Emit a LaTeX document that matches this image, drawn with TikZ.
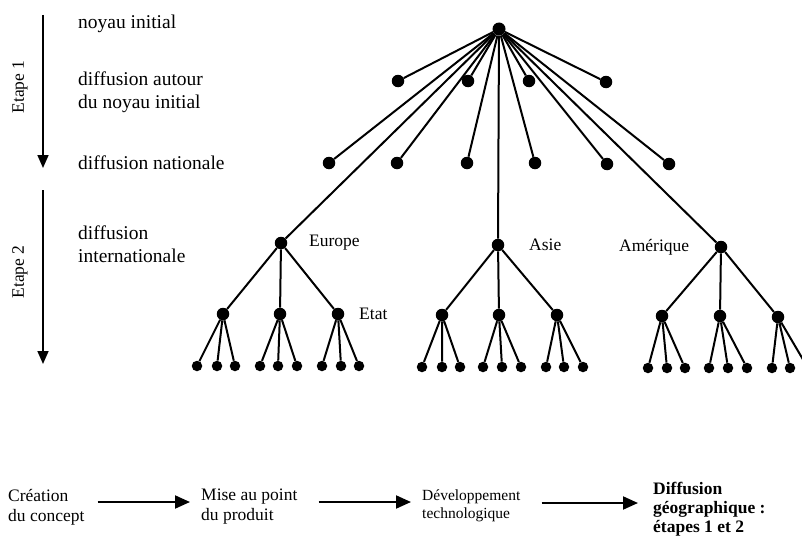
\documentclass[tikz,border=0pt]{standalone}
\usepackage{fontspec}
\setmainfont{Liberation Serif}
\usetikzlibrary{arrows.meta}
\tikzset{
  noeud/.style={circle, fill=black, inner sep=0pt, minimum size=12.5pt},
  feuille/.style={circle, fill=black, inner sep=0pt, minimum size=10.5pt},
  lien/.style={line width=2pt},
  etiq/.style={inner sep=0pt, anchor=west, align=left, font=\fontsize{19.5}{23}\selectfont},
  nom/.style={inner sep=0pt, anchor=west, align=left, font=\fontsize{17.5}{20}\selectfont},
  etape/.style={line width=1.6pt, -{Triangle[length=13pt,width=11pt]}},
  fleche/.style={line width=2pt, -{Triangle[length=15pt,width=13pt]}},
}
\begin{document}
\begin{tikzpicture}[x=1pt,y=-1pt] %pixels de l'image
	\useasboundingbox (0,0) rectangle (802,535);
		%Etapes
	\coordinate (e1haut) at (43,15);
	\coordinate (e1bas) at (43,168);
	\coordinate (e2haut) at (43,190);
	\coordinate (e2bas) at (43,364);
	\draw[etape] (e1haut) -- (e1bas);
	\draw[etape] (e2haut) -- (e2bas);
	\node[nom, anchor=center, rotate=90] (etape1) at (20,87) {Etape 1};
	\node[nom, anchor=center, rotate=90] (etape2) at (20,272) {Etape 2};
		%Textes
	\node[etiq] (tnoyau) at (78,24) {noyau initial};
	\node[etiq] (tautour) at (78,92) {diffusion autour\\du noyau initial};
	\node[etiq] (tnation) at (78,163) {diffusion nationale};
	\node[etiq] (tinter) at (78,244) {diffusion\\internationale};
		%Noyau et diffusion nationale
	\node[noeud, minimum size=13pt] (racine) at (499,29) {};
	\node[noeud] (n1a) at (398,81) {};
	\node[noeud] (n1b) at (468,81) {};
	\node[noeud] (n1c) at (529,81) {};
	\node[noeud] (n1d) at (606,82) {};
	\node[noeud] (n2a) at (329,163) {};
	\node[noeud] (n2b) at (397,163) {};
	\node[noeud] (n2c) at (467,163) {};
	\node[noeud] (n2d) at (535,163) {};
	\node[noeud] (n2e) at (607,164) {};
	\node[noeud] (n2f) at (669,164) {};
		%Continents
	\node[noeud] (europe) at (281,243) {};
	\node[noeud] (asie) at (498,245) {};
	\node[noeud] (amerique) at (721,247) {};
	\node[nom] (teurope) at (309,243) {Europe};
	\node[nom] (tasie) at (529,245) {Asie};
	\node[nom] (tamerique) at (619,247) {Amérique};
		%Etats
	\node[noeud] (eu1) at (223,314) {}; \node[noeud] (eu2) at (280,314) {}; \node[noeud] (eu3) at (338,314) {};
	\node[noeud] (as1) at (442,315) {}; \node[noeud] (as2) at (499,315) {}; \node[noeud] (as3) at (557,315) {};
	\node[noeud] (am1) at (662,316) {}; \node[noeud] (am2) at (720,316) {}; \node[noeud] (am3) at (778,317) {};
	\node[nom] (tetat) at (359,314) {Etat};
		%Feuilles
	\node[feuille] (eu1a) at (197,366) {}; \node[feuille] (eu1b) at (217,366) {}; \node[feuille] (eu1c) at (235,366) {};
	\node[feuille] (eu2a) at (260,366) {}; \node[feuille] (eu2b) at (278,366) {}; \node[feuille] (eu2c) at (297,366) {};
	\node[feuille] (eu3a) at (322,366) {}; \node[feuille] (eu3b) at (341,366) {}; \node[feuille] (eu3c) at (359,366) {};
	\node[feuille] (as1a) at (422,367) {}; \node[feuille] (as1b) at (442,367) {}; \node[feuille] (as1c) at (460,367) {};
	\node[feuille] (as2a) at (483,367) {}; \node[feuille] (as2b) at (502,367) {}; \node[feuille] (as2c) at (521,367) {};
	\node[feuille] (as3a) at (546,367) {}; \node[feuille] (as3b) at (564,367) {}; \node[feuille] (as3c) at (583,367) {};
	\node[feuille] (am1a) at (648,368) {}; \node[feuille] (am1b) at (667,368) {}; \node[feuille] (am1c) at (685,368) {};
	\node[feuille] (am2a) at (709,368) {}; \node[feuille] (am2b) at (728,368) {}; \node[feuille] (am2c) at (747,368) {};
	\node[feuille] (am3a) at (772,368) {}; \node[feuille] (am3b) at (790,368) {}; \node[feuille] (am3c) at (808,368) {};
		%Liens
	\draw[lien] (racine) -- (n1a) (racine) -- (n1b) (racine) -- (n1c) (racine) -- (n1d);
	\draw[lien] (racine) -- (n2a) (racine) -- (n2b) (racine) -- (n2c) (racine) -- (n2d) (racine) -- (n2e) (racine) -- (n2f);
	\draw[lien] (racine) -- (europe) (racine) -- (asie) (racine) -- (amerique);
	\draw[lien] (europe) -- (eu1) (europe) -- (eu2) (europe) -- (eu3);
	\draw[lien] (asie) -- (as1) (asie) -- (as2) (asie) -- (as3);
	\draw[lien] (amerique) -- (am1) (amerique) -- (am2) (amerique) -- (am3);
	\draw[lien] (eu1) -- (eu1a) (eu1) -- (eu1b) (eu1) -- (eu1c) (eu2) -- (eu2a) (eu2) -- (eu2b) (eu2) -- (eu2c) (eu3) -- (eu3a) (eu3) -- (eu3b) (eu3) -- (eu3c);
	\draw[lien] (as1) -- (as1a) (as1) -- (as1b) (as1) -- (as1c) (as2) -- (as2a) (as2) -- (as2b) (as2) -- (as2c) (as3) -- (as3a) (as3) -- (as3b) (as3) -- (as3c);
	\draw[lien] (am1) -- (am1a) (am1) -- (am1b) (am1) -- (am1c) (am2) -- (am2a) (am2) -- (am2b) (am2) -- (am2c) (am3) -- (am3a) (am3) -- (am3b) (am3) -- (am3c);
		%Chaine du produit
	\node[nom] (creation) at (8,507) {Création\\du concept};
	\node[nom] (mise) at (201,507) {Mise au point\\du produit};
	\node[nom, font=\fontsize{15.5}{18}\selectfont] (devel) at (422,506) {Développement\\technologique};
	\node[nom, font=\bfseries\fontsize{17.5}{19}\selectfont] (diffgeo) at (653,509) {Diffusion\\géographique :\\étapes 1 et 2};
	\draw[fleche, shorten <=13pt, shorten >=11pt] ([yshift=5pt]creation.east) -- ([yshift=5pt]mise.west);
	\draw[fleche, shorten <=21pt, shorten >=11pt] ([yshift=5pt]mise.east) -- ([yshift=4pt]devel.west);
	\draw[fleche, shorten <=21pt, shorten >=15pt] ([yshift=3pt]devel.east) -- ([yshift=6pt]diffgeo.west);
\end{tikzpicture}
\end{document}
